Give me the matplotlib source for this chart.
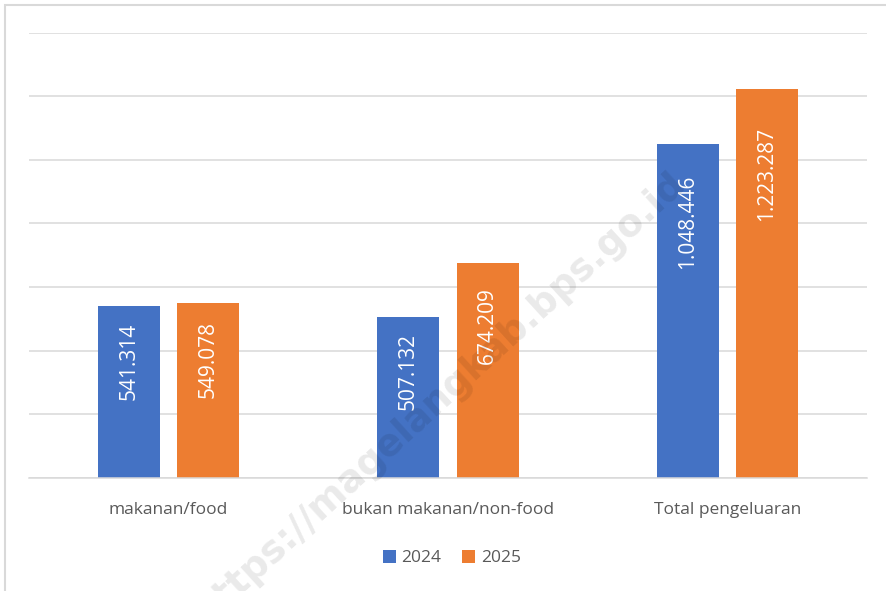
import matplotlib
matplotlib.use("Agg")
import matplotlib.pyplot as plt
from matplotlib.patches import Patch, Rectangle
import numpy as np

categories = ["makanan/food", "bukan makanan/non-food", "Total pengeluaran"]
series_names = ["2024", "2025"]
values_2024 = [541314, 507132, 1048446]
values_2025 = [549078, 674209, 1223287]
labels_2024 = ["541.314", "507.132", "1.048.446"]
labels_2025 = ["549.078", "674.209", "1.223.287"]

colors = ["#4472C4", "#ED7D31"]
W, H = 886, 591
fig = plt.figure(figsize=(W / 100, H / 100), dpi=100)
plt.rcParams['font.family'] = ['Open Sans', 'DejaVu Sans']

# figure border (cropped chart frame)
fig.patches.append(Rectangle((5 / W, -0.1), 1.2, 1 - 5 / H + 0.1, transform=fig.transFigure,
                             fill=False, edgecolor="#d9d9d9", linewidth=1.5, zorder=0))

ax = fig.add_axes([29 / W, 1 - 478 / H, 838 / W, (478 - 32.5) / H])
x = np.arange(len(categories))
bw = 0.222
off = 0.142
ax.bar(x - off, values_2024, bw, color=colors[0], zorder=2)
ax.bar(x + off, values_2025, bw, color=colors[1], zorder=2)

ax.set_xlim(-0.5, 2.5)
ax.set_ylim(0, 1400000)
ax.set_yticks(np.arange(0, 1400001, 200000))
ax.yaxis.grid(True, color="#d9d9d9", linewidth=1.1, zorder=0)
ax.set_axisbelow(True)
for s in ["top", "right", "left"]:
    ax.spines[s].set_visible(False)
ax.spines["bottom"].set_color("#d9d9d9")
ax.spines["bottom"].set_linewidth(1.1)
ax.tick_params(axis="y", left=False, labelleft=False)
ax.set_xticks(x)
ax.set_xticklabels(categories, fontsize=12.5, color="#595959")
ax.tick_params(axis="x", length=0, pad=17)

for xs, vals, labs in [(x - off, values_2024, labels_2024), (x + off, values_2025, labels_2025)]:
    for xi, v, lab in zip(xs, vals, labs):
        yc = 0.866 * v - 103700
        ax.text(xi, yc, lab, rotation=90, ha="center", va="center",
                color="white", fontsize=15, zorder=3)

handles = [Patch(facecolor=c, edgecolor="none") for c in colors]
fig.legend(handles, series_names, loc="center", bbox_to_anchor=(452 / W, 1 - 558 / H),
           ncol=2, frameon=False, fontsize=12.5, labelcolor="#595959",
           handlelength=0.75, handleheight=0.75, handletextpad=0.3, columnspacing=1.2)

# watermark
fig.text(440 / W, 1 - 397 / H, "https://magelangkab.bps.go.id", rotation=42.4,
         ha="center", va="center", fontsize=27, fontweight="bold",
         color="black", alpha=0.085, zorder=10, family="DejaVu Sans",
         rotation_mode="anchor")

fig.savefig("out.png", dpi=100)
